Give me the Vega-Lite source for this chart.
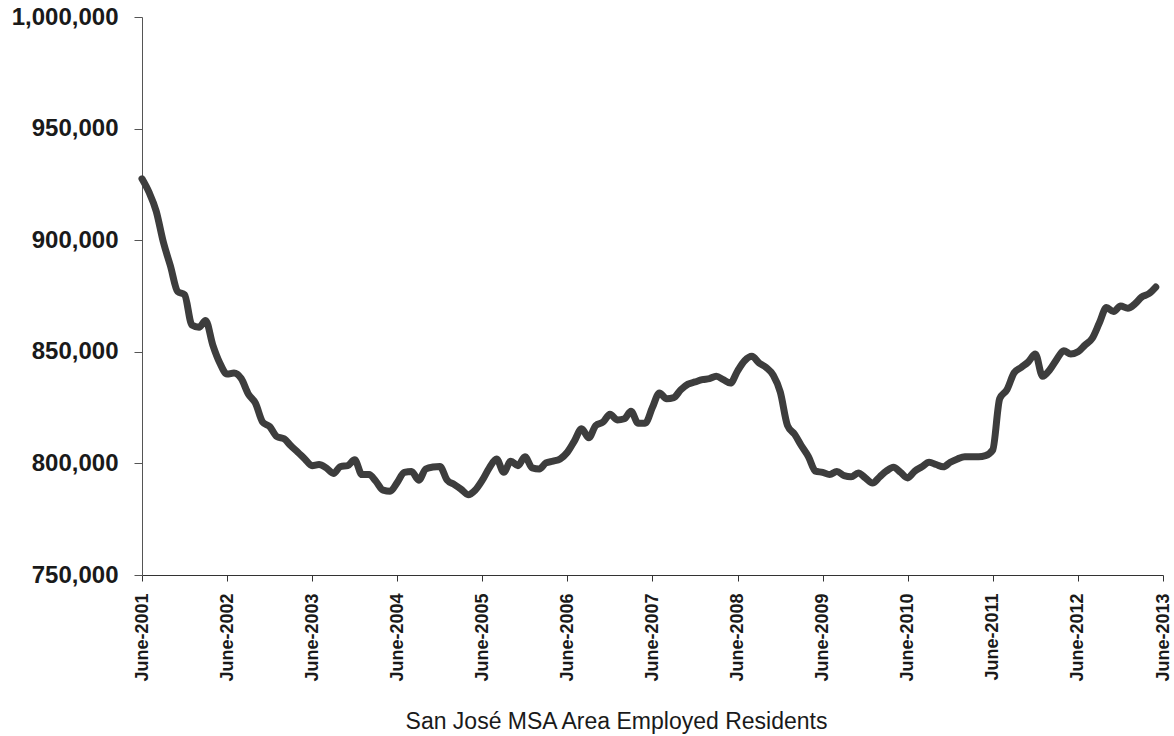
{
  "$schema": "https://vega.github.io/schema/vega-lite/v6.json",
  "autosize": {"type": "none"},
  "width": 1021,
  "height": 558,
  "padding": {"left": 142, "top": 17, "right": 11, "bottom": 161},
  "background": "white",
  "config": {"view": {"stroke": null}, "font": "Liberation Sans"},
  "data": {"values": [
    {"date": "2001-06-01", "employed": 927500},
    {"date": "2001-07-01", "employed": 921500},
    {"date": "2001-08-01", "employed": 913000},
    {"date": "2001-09-01", "employed": 899000},
    {"date": "2001-10-01", "employed": 888500},
    {"date": "2001-11-01", "employed": 877000},
    {"date": "2001-12-01", "employed": 875500},
    {"date": "2002-01-01", "employed": 862000},
    {"date": "2002-02-01", "employed": 861000},
    {"date": "2002-03-01", "employed": 864000},
    {"date": "2002-04-01", "employed": 853000},
    {"date": "2002-05-01", "employed": 845000},
    {"date": "2002-06-01", "employed": 840000},
    {"date": "2002-07-01", "employed": 840500},
    {"date": "2002-08-01", "employed": 838000},
    {"date": "2002-09-01", "employed": 831000},
    {"date": "2002-10-01", "employed": 827000},
    {"date": "2002-11-01", "employed": 818500},
    {"date": "2002-12-01", "employed": 816500},
    {"date": "2003-01-01", "employed": 812000},
    {"date": "2003-02-01", "employed": 811000},
    {"date": "2003-03-01", "employed": 808000},
    {"date": "2003-04-01", "employed": 805000},
    {"date": "2003-05-01", "employed": 802000},
    {"date": "2003-06-01", "employed": 799000},
    {"date": "2003-07-01", "employed": 799500},
    {"date": "2003-08-01", "employed": 798000},
    {"date": "2003-09-01", "employed": 795500},
    {"date": "2003-10-01", "employed": 798600},
    {"date": "2003-11-01", "employed": 799000},
    {"date": "2003-12-01", "employed": 801600},
    {"date": "2004-01-01", "employed": 795000},
    {"date": "2004-02-01", "employed": 795000},
    {"date": "2004-03-01", "employed": 792000},
    {"date": "2004-04-01", "employed": 788000},
    {"date": "2004-05-01", "employed": 787500},
    {"date": "2004-06-01", "employed": 791500},
    {"date": "2004-07-01", "employed": 796000},
    {"date": "2004-08-01", "employed": 796400},
    {"date": "2004-09-01", "employed": 792500},
    {"date": "2004-10-01", "employed": 797500},
    {"date": "2004-11-01", "employed": 798400},
    {"date": "2004-12-01", "employed": 798600},
    {"date": "2005-01-01", "employed": 792500},
    {"date": "2005-02-01", "employed": 790500},
    {"date": "2005-03-01", "employed": 788500},
    {"date": "2005-04-01", "employed": 786000},
    {"date": "2005-05-01", "employed": 788000},
    {"date": "2005-06-01", "employed": 792500},
    {"date": "2005-07-01", "employed": 798000},
    {"date": "2005-08-01", "employed": 802000},
    {"date": "2005-09-01", "employed": 796000},
    {"date": "2005-10-01", "employed": 801000},
    {"date": "2005-11-01", "employed": 799000},
    {"date": "2005-12-01", "employed": 803000},
    {"date": "2006-01-01", "employed": 798000},
    {"date": "2006-02-01", "employed": 797500},
    {"date": "2006-03-01", "employed": 800200},
    {"date": "2006-04-01", "employed": 801000},
    {"date": "2006-05-01", "employed": 802000},
    {"date": "2006-06-01", "employed": 805000},
    {"date": "2006-07-01", "employed": 810000},
    {"date": "2006-08-01", "employed": 815500},
    {"date": "2006-09-01", "employed": 811500},
    {"date": "2006-10-01", "employed": 817000},
    {"date": "2006-11-01", "employed": 818500},
    {"date": "2006-12-01", "employed": 822000},
    {"date": "2007-01-01", "employed": 819500},
    {"date": "2007-02-01", "employed": 820000},
    {"date": "2007-03-01", "employed": 823400},
    {"date": "2007-04-01", "employed": 818000},
    {"date": "2007-05-01", "employed": 818000},
    {"date": "2007-06-01", "employed": 825000},
    {"date": "2007-07-01", "employed": 831500},
    {"date": "2007-08-01", "employed": 829000},
    {"date": "2007-09-01", "employed": 829500},
    {"date": "2007-10-01", "employed": 833000},
    {"date": "2007-11-01", "employed": 835500},
    {"date": "2007-12-01", "employed": 836500},
    {"date": "2008-01-01", "employed": 837500},
    {"date": "2008-02-01", "employed": 838000},
    {"date": "2008-03-01", "employed": 839000},
    {"date": "2008-04-01", "employed": 837500},
    {"date": "2008-05-01", "employed": 836000},
    {"date": "2008-06-01", "employed": 841500},
    {"date": "2008-07-01", "employed": 846000},
    {"date": "2008-08-01", "employed": 848000},
    {"date": "2008-09-01", "employed": 845000},
    {"date": "2008-10-01", "employed": 843000},
    {"date": "2008-11-01", "employed": 839500},
    {"date": "2008-12-01", "employed": 832000},
    {"date": "2009-01-01", "employed": 817000},
    {"date": "2009-02-01", "employed": 813000},
    {"date": "2009-03-01", "employed": 808000},
    {"date": "2009-04-01", "employed": 803000},
    {"date": "2009-05-01", "employed": 796500},
    {"date": "2009-06-01", "employed": 796000},
    {"date": "2009-07-01", "employed": 795000},
    {"date": "2009-08-01", "employed": 796400},
    {"date": "2009-09-01", "employed": 794500},
    {"date": "2009-10-01", "employed": 794000},
    {"date": "2009-11-01", "employed": 795700},
    {"date": "2009-12-01", "employed": 793500},
    {"date": "2010-01-01", "employed": 791200},
    {"date": "2010-02-01", "employed": 794000},
    {"date": "2010-03-01", "employed": 796500},
    {"date": "2010-04-01", "employed": 798300},
    {"date": "2010-05-01", "employed": 796000},
    {"date": "2010-06-01", "employed": 793500},
    {"date": "2010-07-01", "employed": 796500},
    {"date": "2010-08-01", "employed": 798500},
    {"date": "2010-09-01", "employed": 800500},
    {"date": "2010-10-01", "employed": 799500},
    {"date": "2010-11-01", "employed": 798500},
    {"date": "2010-12-01", "employed": 800500},
    {"date": "2011-01-01", "employed": 802000},
    {"date": "2011-02-01", "employed": 803000},
    {"date": "2011-03-01", "employed": 803000},
    {"date": "2011-04-01", "employed": 803000},
    {"date": "2011-05-01", "employed": 803500},
    {"date": "2011-06-01", "employed": 806000},
    {"date": "2011-07-01", "employed": 829000},
    {"date": "2011-08-01", "employed": 833000},
    {"date": "2011-09-01", "employed": 840600},
    {"date": "2011-10-01", "employed": 843000},
    {"date": "2011-11-01", "employed": 845500},
    {"date": "2011-12-01", "employed": 849000},
    {"date": "2012-01-01", "employed": 839000},
    {"date": "2012-02-01", "employed": 842000},
    {"date": "2012-03-01", "employed": 846500},
    {"date": "2012-04-01", "employed": 850500},
    {"date": "2012-05-01", "employed": 849000},
    {"date": "2012-06-01", "employed": 850000},
    {"date": "2012-07-01", "employed": 853000},
    {"date": "2012-08-01", "employed": 856000},
    {"date": "2012-09-01", "employed": 863000},
    {"date": "2012-10-01", "employed": 869800},
    {"date": "2012-11-01", "employed": 868000},
    {"date": "2012-12-01", "employed": 870500},
    {"date": "2013-01-01", "employed": 869500},
    {"date": "2013-02-01", "employed": 871500},
    {"date": "2013-03-01", "employed": 874500},
    {"date": "2013-04-01", "employed": 876000},
    {"date": "2013-05-01", "employed": 879000}
  ]},
  "mark": {"type": "line", "color": "#3d3d3d", "strokeWidth": 7, "strokeJoin": "round", "strokeCap": "round", "interpolate": "monotone"},
  "encoding": {
    "x": {
      "field": "date",
      "type": "temporal",
      "scale": {"type": "utc", "domain": [{"year": 2001, "month": 6, "date": 1, "utc": true}, {"year": 2013, "month": 6, "date": 1, "utc": true}], "nice": false},
      "axis": {
        "title": "San José MSA Area Employed Residents",
        "titleFont": "Liberation Sans",
        "titleFontSize": 23,
        "titleFontWeight": "normal",
        "titleColor": "#1a1a1a",
        "titleX": 474,
        "titleY": 153,
        "titleBaseline": "alphabetic",
        "values": [
          {"year": 2001, "month": 6, "date": 1, "utc": true},
          {"year": 2002, "month": 6, "date": 1, "utc": true},
          {"year": 2003, "month": 6, "date": 1, "utc": true},
          {"year": 2004, "month": 6, "date": 1, "utc": true},
          {"year": 2005, "month": 6, "date": 1, "utc": true},
          {"year": 2006, "month": 6, "date": 1, "utc": true},
          {"year": 2007, "month": 6, "date": 1, "utc": true},
          {"year": 2008, "month": 6, "date": 1, "utc": true},
          {"year": 2009, "month": 6, "date": 1, "utc": true},
          {"year": 2010, "month": 6, "date": 1, "utc": true},
          {"year": 2011, "month": 6, "date": 1, "utc": true},
          {"year": 2012, "month": 6, "date": 1, "utc": true},
          {"year": 2013, "month": 6, "date": 1, "utc": true}
        ],
        "labelExpr": "'June-' + utcyear(datum.value)",
        "labelAngle": -90,
        "labelAlign": "right",
        "labelBaseline": "middle",
        "labelFont": "Liberation Sans",
        "labelFontSize": 18,
        "labelFontWeight": "bold",
        "labelColor": "#1a1a1a",
        "labelPadding": 12,
        "labelFlush": false,
        "labelOverlap": false,
        "tickSize": 6,
        "tickColor": "#333",
        "domainColor": "#333",
        "grid": false
      }
    },
    "y": {
      "field": "employed",
      "type": "quantitative",
      "scale": {"domain": [750000, 1000000], "nice": false, "zero": false},
      "axis": {
        "title": null,
        "values": [750000, 800000, 850000, 900000, 950000, 1000000],
        "labelExpr": "datum.value >= 1000000 ? '1,000,000' : (datum.value / 1000) + ',000'",
        "labelFont": "Liberation Sans",
        "labelFontSize": 24,
        "labelFontWeight": "bold",
        "labelColor": "#1a1a1a",
        "labelPadding": 16,
        "tickSize": 8,
        "tickColor": "#555",
        "domainColor": "#555",
        "grid": false
      }
    }
  }
}
